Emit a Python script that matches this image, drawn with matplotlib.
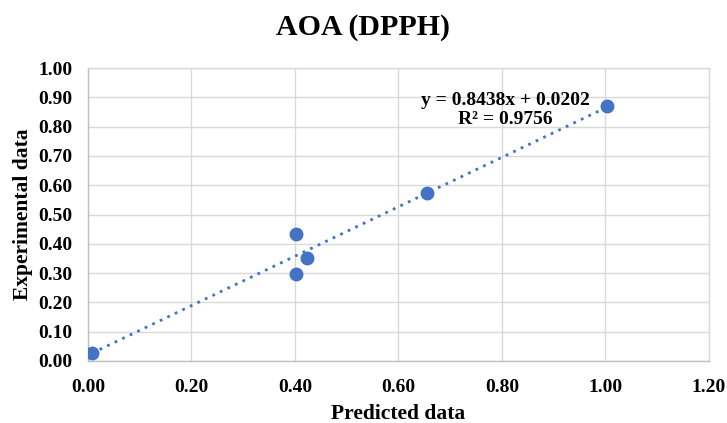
import numpy as np
import matplotlib
matplotlib.use("Agg")
import matplotlib.pyplot as plt

# data
predicted = [0.008, 0.402, 0.403, 0.423, 0.655, 1.003]
experimental = [0.027, 0.297, 0.433, 0.352, 0.574, 0.870]
slope = 0.8438
intercept = 0.0202
r2 = 0.9756

x_ticks = [0.0, 0.2, 0.4, 0.6, 0.8, 1.0, 1.2]
y_ticks = [0.0, 0.1, 0.2, 0.3, 0.4, 0.5, 0.6, 0.7, 0.8, 0.9, 1.0]

plt.rcParams['font.family'] = ['Liberation Serif', 'DejaVu Serif']
plt.rcParams['font.weight'] = 'bold'

blue = "#4472C4"
grid_c = "#d9d9d9"

fig = plt.figure(figsize=(7.27, 4.23), dpi=100)
ax = fig.add_axes([0.121, 0.1466, 0.854, 0.6924])

# trendline over the data range
xt = np.array([min(predicted), max(predicted)])
ax.plot(xt, slope * xt + intercept, linestyle=(0, (1, 2)), color=blue, lw=2.0, zorder=2)
ax.plot(predicted, experimental, "o", color=blue, ms=9, zorder=3)

ax.set_xlim(0, 1.2)
ax.set_ylim(0, 1.0)
ax.set_xticks(x_ticks)
ax.set_yticks(y_ticks)
ax.set_xticklabels(["%.2f" % v for v in x_ticks], fontsize=14, fontweight='bold')
ax.set_yticklabels(["%.2f" % v for v in y_ticks], fontsize=14, fontweight='bold')
ax.tick_params(axis='x', length=0, pad=13)
ax.tick_params(axis='y', length=0, pad=11)
ax.grid(True, color=grid_c, lw=1.0)
ax.set_axisbelow(True)
for s in ax.spines.values():
    s.set_color(grid_c)
    s.set_linewidth(1.0)
ax.spines['left'].set_color("#bfbfbf")
ax.spines['bottom'].set_color("#bfbfbf")

ax.set_xlabel("Predicted data", fontsize=15.5, fontweight='bold', labelpad=6)
ax.set_ylabel("Experimental data", fontsize=15.5, fontweight='bold', labelpad=4)
fig.text(0.5, 0.935, "AOA (DPPH)", ha='center', va='center', fontsize=21.5, fontweight='bold')

ax.text(0.672, 0.857, "y = %.4fx + %.4f\nR\u00b2 = %.4f" % (slope, intercept, r2),
        transform=ax.transAxes, ha='center', va='center', fontsize=14,
        fontweight='bold', linespacing=1.1)

fig.savefig("out.png", dpi=100)
